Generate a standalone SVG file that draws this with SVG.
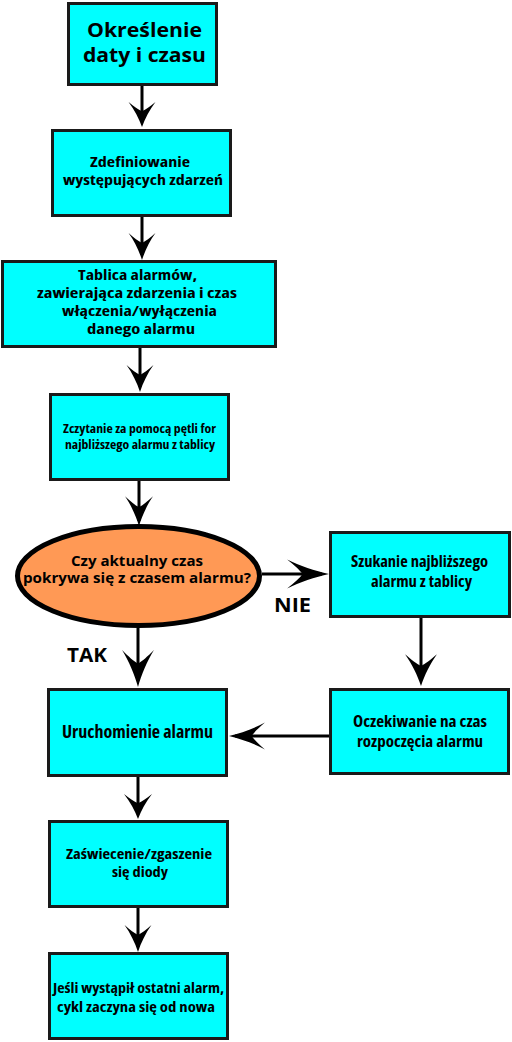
<svg xmlns="http://www.w3.org/2000/svg" width="512" height="1042" viewBox="0 0 512 1042">
<defs>
<style>
.box{fill:#00ffff;stroke:#1a1a1a;stroke-width:3}
.dec{fill:#ff9955;stroke:#000;stroke-width:5}
.w{font-family:"Open Sans","Noto Sans","DejaVu Sans",sans-serif;font-weight:bold;fill:#000;text-anchor:middle}
.c{font-family:"Open Sans","Noto Sans","DejaVu Sans",sans-serif;font-weight:bold;font-stretch:condensed;fill:#000;text-anchor:middle}
.ln{stroke:#000;stroke-width:3;fill:none}
.ah{fill:#000;stroke:none}
</style>
<path id="head" d="M0,0 C-3,-9 -8,-19 -14,-27 C-8,-22 -4,-19 0,-17 C4,-19 8,-22 14,-27 C8,-19 3,-9 0,0 Z"/>
</defs>
<rect width="512" height="1042" fill="#fff"/>
<g id="connectors">
<line class="ln" x1="142" y1="86" x2="142" y2="122"/>
<use href="#head" class="ah" transform="translate(142,127) scale(0.96,0.93)"/>
<line class="ln" x1="142" y1="217" x2="142" y2="255"/>
<use href="#head" class="ah" transform="translate(142,260) scale(0.96,1)"/>
<line class="ln" x1="140" y1="348" x2="140" y2="387"/>
<use href="#head" class="ah" transform="translate(140,392) scale(0.96,1)"/>
<line class="ln" x1="139" y1="481" x2="139" y2="521"/>
<use href="#head" class="ah" transform="translate(139,526) scale(1,1.1)"/>
<line class="ln" x1="262" y1="574" x2="322" y2="574"/>
<use href="#head" class="ah" transform="translate(329,574) rotate(-90) scale(1.04,1.55)"/>
<line class="ln" x1="138" y1="628" x2="138" y2="680"/>
<use href="#head" class="ah" transform="translate(138,687) scale(1.14,1.37)"/>
<line class="ln" x1="421" y1="618" x2="421" y2="680"/>
<use href="#head" class="ah" transform="translate(421,686) scale(1.14,1.18)"/>
<line class="ln" x1="329" y1="736" x2="235" y2="736"/>
<use href="#head" class="ah" transform="translate(229,736) rotate(90) scale(0.96,1.33)"/>
<line class="ln" x1="138" y1="777" x2="138" y2="814"/>
<use href="#head" class="ah" transform="translate(138,819) scale(1,0.93)"/>
<line class="ln" x1="138" y1="908" x2="138" y2="947"/>
<use href="#head" class="ah" transform="translate(138,952) scale(0.96,1)"/>
</g>
<g id="n1">
<rect class="box" x="68.5" y="3.5" width="148" height="81"/>
<text class="w" x="144.5" y="37" font-size="19.5" textLength="115" lengthAdjust="spacingAndGlyphs">Określenie</text>
<text class="w" x="144.5" y="62" font-size="19.5" textLength="123" lengthAdjust="spacingAndGlyphs">daty i czasu</text>
</g>
<g id="n2">
<rect class="box" x="52.5" y="130.5" width="178" height="85"/>
<text class="c" x="140" y="167" font-size="15" textLength="100" lengthAdjust="spacingAndGlyphs">Zdefiniowanie</text>
<text class="c" x="143" y="185" font-size="15" textLength="160" lengthAdjust="spacingAndGlyphs">występujących zdarzeń</text>
</g>
<g id="n3">
<rect class="box" x="2.5" y="261.5" width="273" height="85"/>
<text class="c" x="137.5" y="280" font-size="14" textLength="119" lengthAdjust="spacingAndGlyphs">Tablica alarmów,</text>
<text class="c" x="137" y="298" font-size="14" textLength="200" lengthAdjust="spacingAndGlyphs">zawierająca zdarzenia i czas</text>
<text class="c" x="139.5" y="316" font-size="14" textLength="155" lengthAdjust="spacingAndGlyphs">włączenia/wyłączenia</text>
<text class="c" x="141" y="333.5" font-size="14" textLength="108" lengthAdjust="spacingAndGlyphs">danego alarmu</text>
</g>
<g id="n4">
<rect class="box" x="50.5" y="394.5" width="178" height="85"/>
<text class="c" x="139.5" y="433" font-size="13" textLength="153" lengthAdjust="spacingAndGlyphs">Zczytanie za pomocą pętli for</text>
<text class="c" x="140" y="449" font-size="13" textLength="150" lengthAdjust="spacingAndGlyphs">najbliższego alarmu z tablicy</text>
</g>
<g id="decision">
<ellipse class="dec" cx="138.5" cy="576" rx="121" ry="49.5"/>
<text class="w" x="137" y="565.5" font-size="14" textLength="132" lengthAdjust="spacingAndGlyphs">Czy aktualny czas</text>
<text class="w" x="137" y="582.5" font-size="14" textLength="228" lengthAdjust="spacingAndGlyphs">pokrywa się z czasem alarmu?</text>
</g>
<g id="n5">
<rect class="box" x="330.5" y="532.5" width="179" height="84"/>
<text class="c" x="419.5" y="567" font-size="16" textLength="137" lengthAdjust="spacingAndGlyphs">Szukanie najbliższego</text>
<text class="c" x="421.5" y="587" font-size="16" textLength="101" lengthAdjust="spacingAndGlyphs">alarmu z tablicy</text>
</g>
<g id="labels">
<text class="w" x="292.5" y="612" font-size="19" textLength="37" lengthAdjust="spacingAndGlyphs">NIE</text>
<text class="w" x="87" y="662" font-size="19" textLength="40" lengthAdjust="spacingAndGlyphs">TAK</text>
</g>
<g id="n6">
<rect class="box" x="48.5" y="689.5" width="178" height="86"/>
<text class="c" x="137.5" y="738" font-size="17" textLength="151" lengthAdjust="spacingAndGlyphs">Uruchomienie alarmu</text>
</g>
<g id="n7">
<rect class="box" x="330.5" y="689.5" width="178" height="84"/>
<text class="c" x="420" y="727" font-size="16" textLength="134" lengthAdjust="spacingAndGlyphs">Oczekiwanie na czas</text>
<text class="c" x="420" y="747" font-size="16" textLength="126" lengthAdjust="spacingAndGlyphs">rozpoczęcia alarmu</text>
</g>
<g id="n8">
<rect class="box" x="49.5" y="821.5" width="178" height="85"/>
<text class="c" x="139" y="859" font-size="15" textLength="146" lengthAdjust="spacingAndGlyphs">Zaświecenie/zgaszenie</text>
<text class="c" x="140" y="877" font-size="15" textLength="56" lengthAdjust="spacingAndGlyphs">się diody</text>
</g>
<g id="n9">
<rect class="box" x="49.5" y="953.5" width="178" height="85"/>
<text class="c" x="138.5" y="993" font-size="14.5" textLength="171" lengthAdjust="spacingAndGlyphs">Jeśli wystąpił ostatni alarm,</text>
<text class="c" x="136" y="1012" font-size="14.5" textLength="158" lengthAdjust="spacingAndGlyphs">cykl zaczyna się od nowa</text>
</g>
</svg>
